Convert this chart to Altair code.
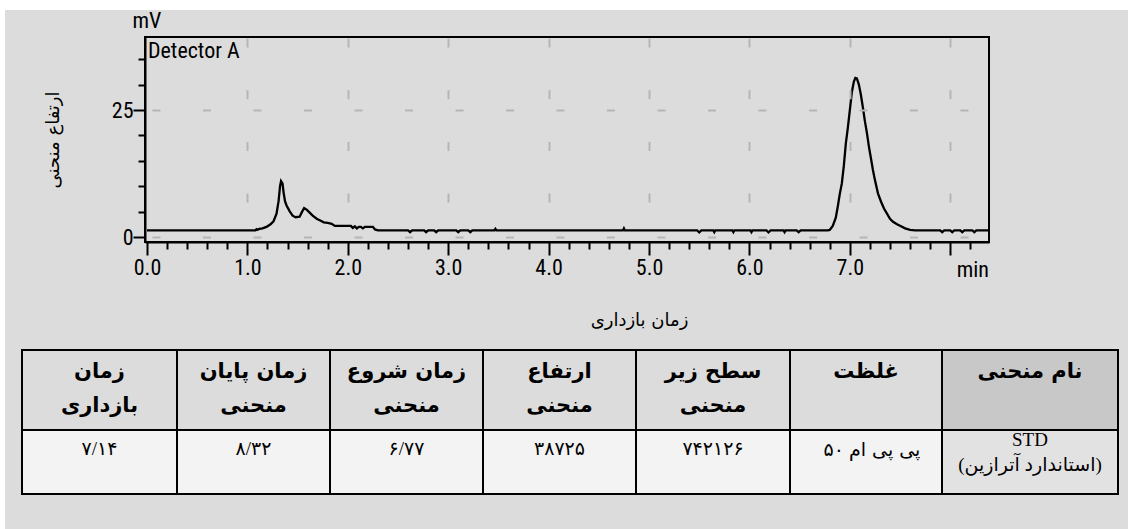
import altair as alt
import pandas as pd

# ---------------- data ----------------
# chromatogram (time in min, signal in mV)
seg_a_t = [0.00, 0.50, 1.00, 1.08, 1.09, 1.10, 1.12, 1.15, 1.19, 1.23, 1.26, 1.29, 1.31, 1.325,
           1.335, 1.35, 1.36, 1.375, 1.39, 1.42, 1.45, 1.48, 1.52, 1.545, 1.565, 1.59, 1.62, 1.65,
           1.69, 1.73, 1.76, 1.80, 1.84, 1.87, 1.95, 2.03, 2.05, 2.07, 2.09, 2.11, 2.13, 2.15,
           2.17, 2.19, 2.25, 2.27, 2.30]
seg_a_v = [1.3, 1.3, 1.3, 1.3, 1.55, 1.45, 1.6, 1.7, 2.0, 2.5, 3.1, 4.6, 7.0, 10.0,
           11.0, 10.5, 8.8, 7.0, 6.2, 5.1, 4.2, 3.9, 4.0, 5.0, 5.7, 5.4, 4.8, 4.2,
           3.6, 3.2, 2.9, 2.8, 2.6, 2.2, 2.2, 2.2, 1.8, 2.1, 1.7, 2.0, 2.0, 1.7,
           2.0, 2.0, 2.0, 1.5, 1.3]
seg_b_t = [2.60, 2.62, 2.64, 2.76, 2.78, 2.80, 2.86, 2.88, 2.90, 3.08, 3.10, 3.12, 3.20, 3.22,
           3.24, 3.46, 3.47, 3.48, 4.74, 4.75, 4.76, 5.48, 5.50, 5.52, 5.64, 5.65, 5.66, 5.83,
           5.84, 5.85, 6.01, 6.02, 6.03, 6.17, 6.19, 6.21, 6.34, 6.35, 6.36, 6.47, 6.49, 6.51,
           6.78]
seg_b_v = [1.3, 0.95, 1.3, 1.3, 0.95, 1.3, 1.3, 0.95, 1.3, 1.3, 0.95, 1.3, 1.3, 0.95,
           1.3, 1.3, 1.6, 1.3, 1.3, 1.7, 1.3, 1.3, 0.9, 1.3, 1.3, 0.95, 1.3, 1.3,
           0.95, 1.3, 1.3, 0.95, 1.3, 1.3, 0.9, 1.3, 1.3, 0.95, 1.3, 1.3, 0.95, 1.3,
           1.3]
seg_c_t = [6.80, 6.83, 6.86, 6.88, 6.90, 6.92, 6.94, 6.96, 6.98, 7.00, 7.02, 7.04, 7.055, 7.07,
           7.09, 7.11, 7.13, 7.15, 7.17, 7.19, 7.21, 7.23, 7.25, 7.28, 7.31, 7.34, 7.37, 7.40,
           7.43, 7.47, 7.50, 7.55, 7.60, 7.65]
seg_c_v = [1.4, 2.2, 3.8, 6.0, 8.5, 10.5, 14.0, 18.4, 21.5, 25.0, 28.5, 30.6, 31.3, 31.2,
           30.0, 28.0, 25.5, 22.8, 20.5, 17.8, 15.5, 13.2, 11.2, 8.6, 7.0, 5.6, 4.6, 3.6,
           3.0, 2.5, 2.2, 1.7, 1.4, 1.3]
seg_d_t = [7.90, 7.92, 7.94, 8.00, 8.02, 8.04, 8.10, 8.12, 8.14, 8.22, 8.24, 8.26, 8.386]
seg_d_v = [1.3, 0.95, 1.3, 1.3, 0.95, 1.3, 1.3, 0.95, 1.3, 1.3, 0.95, 1.3, 1.3]

time_min = seg_a_t + seg_b_t + seg_c_t + seg_d_t
signal_mv = seg_a_v + seg_b_v + seg_c_v + seg_d_v
assert len(time_min) == len(signal_mv)

x_tick_values = [round(0.2 * i, 1) for i in range(42)]
y_tick_values = [0, 5, 10, 15, 20, 25, 30, 35]

# table (columns in left-to-right visual order)
col_headers = [["زمان", "بازداری"], ["زمان پایان", "منحنی"], ["زمان شروع", "منحنی"],
               ["ارتفاع", "منحنی"], ["سطح زیر", "منحنی"], ["غلظت"], ["نام منحنی"]]
col_values = [["۷/۱۴"], ["۸/۳۲"], ["۶/۷۷"], ["۳۸۷۲۵"], ["۷۴۲۱۲۶"], ["۵۰ پی پی ام"],
              ["STD", "(استاندارد آترازین)"]]
CONC_COL = 5  # the concentration cell: number printed left of its unit

# ---------------- layout / style ----------------
W, H = 844, 205
PAD_L, PAD_T = 145, 37
X_DOMAIN = [-0.02, 8.386]
Y_DOMAIN = [-0.98, 39.37]
NARROW = "Roboto Condensed, Liberation Sans Narrow, Arial Narrow, DejaVu Sans Condensed, Liberation Sans, sans-serif"
ARAB = "DejaVu Sans"
BG = "#dcdcdc"

col_widths = [155, 153, 153, 153, 154, 152, 176]
TABLE_LEFT, TABLE_TOP = 22, 350
HEADER_H, ROW_H = 80, 64
header_fills = [BG] * 6 + ["#c8c8c8"]
row_fills = ["#f3f3f3"] * 6 + ["#e2e2e2"]

# table scales: table-local pixels -> plot area
tx = alt.Scale(domain=[PAD_L - TABLE_LEFT, PAD_L - TABLE_LEFT + W], nice=False, zero=False)
ty = alt.Scale(domain=[-(TABLE_TOP - PAD_T), -(TABLE_TOP - PAD_T) + H], nice=False, zero=False, reverse=True)

edges = [0]
for w in col_widths:
    edges.append(edges[-1] + w)

rect_rows, head_rows, val_rows, num_rows, unit_rows = [], [], [], [], []
for i in range(len(col_widths)):
    rect_rows.append(dict(u0=edges[i], u1=edges[i + 1], v0=0, v1=HEADER_H, fill=header_fills[i]))
    rect_rows.append(dict(u0=edges[i], u1=edges[i + 1], v0=HEADER_H, v1=HEADER_H + ROW_H, fill=row_fills[i]))
    uc = (edges[i] + edges[i + 1]) / 2
    for j, line in enumerate(col_headers[i]):
        head_rows.append(dict(u=uc, v=22 + 34 * j, text=line))
    vals = col_values[i]
    for j, line in enumerate(vals):
        v = HEADER_H + 19 if len(vals) == 1 else HEADER_H + 10 + 25 * j
        if i == CONC_COL:
            num, unit = line.split(" ", 1)
            num_rows.append(dict(u=uc - 22, v=v + 1, text=num))
            unit_rows.append(dict(u=uc - 17, v=v + 1, text=unit))
        else:
            val_rows.append(dict(u=uc, v=v, text=line))

df_chrom = pd.DataFrame({"t": time_min, "v": signal_mv})
df_rect = pd.DataFrame(rect_rows)
df_head = pd.DataFrame(head_rows)
df_val = pd.DataFrame(val_rows)
df_num = pd.DataFrame(num_rows)
df_unit = pd.DataFrame(unit_rows)
one = pd.DataFrame({"k": [0]})

is_int = "abs(datum.value - round(datum.value)) < 0.01"

x_axis = alt.Axis(
    values=x_tick_values,
    title="زمان بازداری", titleFont=ARAB, titleFontSize=18, titleFontWeight="normal", titleColor="black",
    titleX=494, titleY=78, titleAlign="center", titleBaseline="middle",
    labelExpr=f"({is_int} && datum.value < 7.5) ? format(datum.value, '.1f') : ''",
    labelFont=NARROW, labelFontSize=22, labelColor="black", labelPadding=2,
    labelFlush=False, labelOverlap=False, labelBound=False,
    tickColor="black", tickWidth=2,
    tickSize={"condition": {"test": is_int, "value": 13}, "value": 7},
    domainColor="black", domainWidth=2,
    grid=True, gridColor="#b5b5b5", gridWidth=2, gridDash=[9, 42.7], gridDashOffset=50.7,
    gridOpacity={"condition": {"test": f"{is_int} && datum.value > 0.5", "value": 1}, "value": 0},
    zindex=1,
)
y_axis = alt.Axis(
    values=y_tick_values,
    title="ارتفاع منحنی", titleFont=ARAB, titleFontSize=18, titleFontWeight="normal", titleColor="black",
    titleX=-92, titleY=H / 2, titleAlign="center", titleBaseline="middle",
    labelExpr="(datum.value == 0 || datum.value == 25) ? datum.label : ''",
    labelFont=NARROW, labelFontSize=22, labelColor="black", labelPadding=0, labelFlush=False,
    labelOverlap=False,
    tickColor="black", tickWidth=2,
    tickSize={"condition": {"test": "datum.value == 0 || datum.value == 25", "value": 12}, "value": 7},
    domainColor="black", domainWidth=2,
    grid=True, gridColor="#b5b5b5", gridWidth=2, gridDash=[8, 42.5], gridDashOffset=43.5,
    gridOpacity={"condition": {"test": "datum.value == 0 || datum.value == 25", "value": 1}, "value": 0},
    zindex=1,
)

chrom = alt.Chart(df_chrom).mark_line(color="black", strokeWidth=2.3, clip=True).encode(
    x=alt.X("t:Q", scale=alt.Scale(domain=X_DOMAIN, nice=False, zero=False), axis=x_axis),
    y=alt.Y("v:Q", scale=alt.Scale(domain=Y_DOMAIN, nice=False, zero=False), axis=y_axis),
)

white_top = alt.Chart(one).mark_rect(color="white").encode(
    x=alt.value(-PAD_L), x2=alt.value(W + 139), y=alt.value(-PAD_T), y2=alt.value(-PAD_T + 10))
white_left = alt.Chart(one).mark_rect(color="white").encode(
    x=alt.value(-PAD_L), x2=alt.value(-PAD_L + 5), y=alt.value(-PAD_T), y2=alt.value(H + 287))

mv_text = alt.Chart(one).mark_text(text="mV", font=NARROW, fontSize=22, align="center",
                                   baseline="alphabetic", color="black").encode(
    x=alt.value(2), y=alt.value(-9))
det_text = alt.Chart(one).mark_text(text="Detector A", font=NARROW, fontSize=22, align="left",
                                    baseline="alphabetic", color="black").encode(
    x=alt.value(3), y=alt.value(21))
min_text = alt.Chart(one).mark_text(text="min", font=NARROW, fontSize=22, align="right",
                                    baseline="alphabetic", color="black").encode(
    x=alt.value(W), y=alt.value(H + 35))

cells = alt.Chart(df_rect).mark_rect(stroke="black", strokeWidth=2).encode(
    x=alt.X("u0:Q", scale=tx, axis=None), x2="u1:Q",
    y=alt.Y("v0:Q", scale=ty, axis=None), y2="v1:Q",
    fill=alt.Fill("fill:N", scale=None),
)
head_text = alt.Chart(df_head).mark_text(font=ARAB, fontSize=21, fontWeight="bold", color="black",
                                         align="center", baseline="middle").encode(
    x=alt.X("u:Q", scale=tx, axis=None), y=alt.Y("v:Q", scale=ty, axis=None), text="text:N")
val_text = alt.Chart(df_val).mark_text(font="Liberation Serif, " + ARAB, fontSize=19, color="black",
                                       align="center", baseline="middle").encode(
    x=alt.X("u:Q", scale=tx, axis=None), y=alt.Y("v:Q", scale=ty, axis=None), text="text:N")
num_text = alt.Chart(df_num).mark_text(font=ARAB, fontSize=19, color="black",
                                       align="right", baseline="middle").encode(
    x=alt.X("u:Q", scale=tx, axis=None), y=alt.Y("v:Q", scale=ty, axis=None), text="text:N")
unit_text = alt.Chart(df_unit).mark_text(font=ARAB, fontSize=19, color="black",
                                         align="left", baseline="middle").encode(
    x=alt.X("u:Q", scale=tx, axis=None), y=alt.Y("v:Q", scale=ty, axis=None), text="text:N")

chart = alt.layer(
    white_top, white_left, chrom, mv_text, det_text, min_text, cells, head_text, val_text,
    num_text, unit_text
).resolve_scale(x="independent", y="independent").properties(
    width=W, height=H, background=BG,
    padding={"left": PAD_L, "top": PAD_T, "right": 139, "bottom": 287},
    autosize=alt.AutoSizeParams(type="none"),
).configure_view(stroke="black", strokeWidth=2)

chart.save("out.html", embed_options={"renderer": "svg", "actions": False})
